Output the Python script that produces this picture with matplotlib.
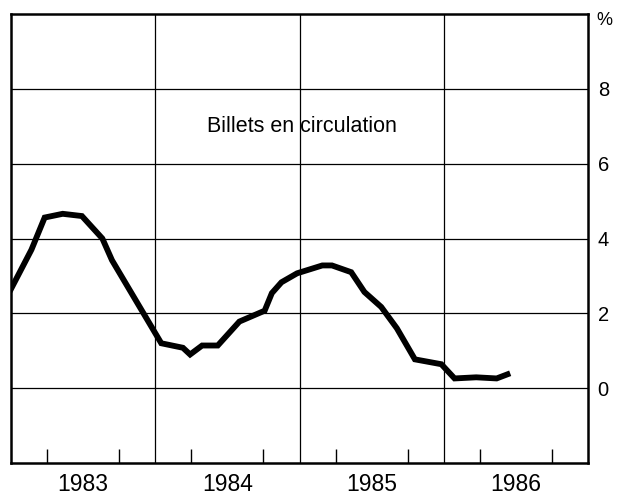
import matplotlib
matplotlib.use("Agg")
import matplotlib.pyplot as plt
import numpy as np

# months since Jan 1983 and growth rate (%)
months = [0.0, 1.7, 2.8, 4.3, 5.9, 7.6, 8.4, 12.5, 14.3, 14.9, 15.9, 17.2,
          19.0, 21.1, 21.7, 22.5, 23.8, 25.9, 26.7, 28.3, 29.4, 30.8, 32.1,
          33.6, 35.8, 36.9, 38.7, 40.4, 41.3]
values = [2.65, 3.70, 4.56, 4.66, 4.60, 4.00, 3.42, 1.20, 1.08, 0.90, 1.14, 1.14,
          1.78, 2.07, 2.54, 2.83, 3.07, 3.28, 3.28, 3.10, 2.57, 2.17, 1.60,
          0.77, 0.64, 0.26, 0.29, 0.26, 0.37]
years = [1983, 1984, 1985, 1986]
yticks = [0, 2, 4, 6, 8]
series_label = "Billets en circulation"

plt.rcParams['font.family'] = ['Liberation Sans', 'DejaVu Sans']

fig = plt.figure(figsize=(6.3, 4.97), dpi=100)
ax = fig.add_axes([11 / 630, 1 - 463 / 497, 577 / 630, 449 / 497])

x = [years[0] + m / 12 for m in months]
ax.plot(x, values, color='black', linewidth=4.2, solid_joinstyle='miter')

ax.set_xlim(years[0], years[-1] + 1)
ax.set_ylim(-2, 10)

# grid
for yr in years[1:]:
    ax.axvline(yr, color='black', linewidth=0.9, zorder=0)
for yv in yticks:
    ax.axhline(yv, color='black', linewidth=0.9, zorder=0)

# x axis: year labels in the middle, quarter ticks inside
ax.set_xticks([yr + 0.5 for yr in years])
ax.set_xticklabels([str(yr) for yr in years], fontsize=16.5)
ax.tick_params(axis='x', which='major', length=0, pad=7)
quarters = [yr + q / 4 for yr in years for q in (1, 2, 3)]
ax.set_xticks(quarters, minor=True)
ax.tick_params(axis='x', which='minor', direction='in', length=10, width=1)

# y axis labels on the right
ax.yaxis.tick_right()
ax.set_yticks(yticks)
ax.set_yticklabels([str(v) for v in yticks], fontsize=14.5)
ax.tick_params(axis='y', length=0, pad=7)
ax.tick_params(axis='y', left=False, right=False)
ax.text(1.014, 10.05, "%", transform=ax.get_yaxis_transform(), fontsize=13,
        va='top', ha='left')

for s in ax.spines.values():
    s.set_linewidth(1.8)

ax.text(1985.02, 7.0, series_label, fontsize=15.5, ha='center', va='center')

fig.savefig("out.png", dpi=100)
